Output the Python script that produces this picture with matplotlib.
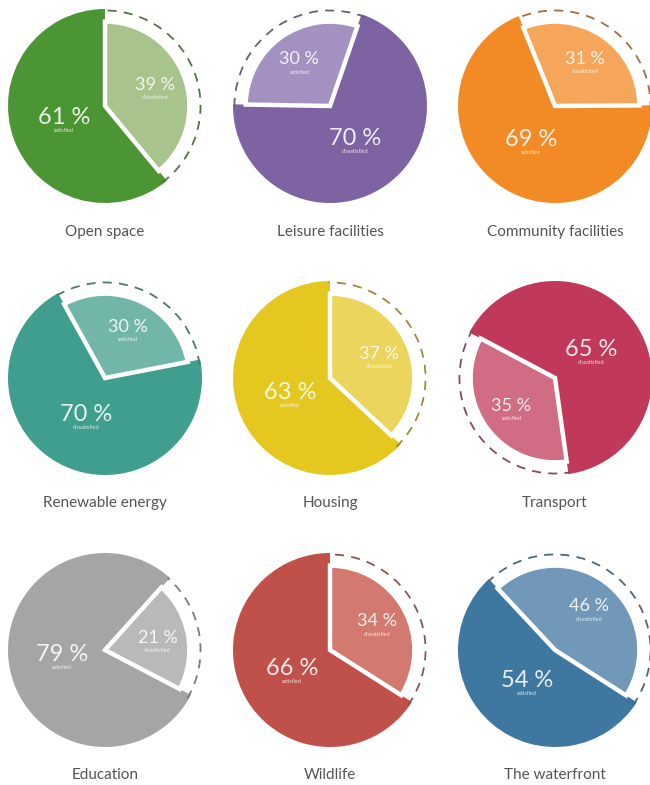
import math
import matplotlib
matplotlib.use("Agg")
import matplotlib.pyplot as plt
from matplotlib.patches import Wedge, Arc
import matplotlib.colors as mcolors

# Donnees
categories = ["Open space", "Leisure facilities", "Community facilities",
              "Renewable energy", "Housing", "Transport",
              "Education", "Wildlife", "The waterfront"]
big_values = [61, 70, 69, 70, 63, 65, 79, 66, 54]
small_values = [39, 30, 31, 30, 37, 35, 21, 34, 46]
big_labels = ["satisfied", "dissatisfied", "satisfied",
              "dissatisfied", "satisfied", "dissatisfied",
              "satisfied", "satisfied", "satisfied"]
small_labels = ["dissatisfied", "satisfied", "dissatisfied",
                "satisfied", "dissatisfied", "satisfied",
                "dissatisfied", "dissatisfied", "dissatisfied"]

# Style
big_colors = ["#4b9535", "#7e63a2", "#f28b26", "#3f9e8e", "#e4c820",
              "#c0385a", "#a5a5a5", "#c0514a", "#3e77a0"]
small_colors = ["#a8c38c", "#a591c1", "#f5a65a", "#72b6aa", "#ebd55c",
                "#d06c84", "#b9b9b9", "#d27a70", "#7198b9"]
small_start = [90, 179, 112, 119, 90, 278, 48, 90, 133]

W, H = 650, 785
centres_x = [105, 330, 555]
centres_y = [H - 106, H - 378, H - 650]
label_y = [H - 232, H - 503, H - 775]
R = 97

fig = plt.figure(figsize=(6.5, 7.85), dpi=100)
ax = fig.add_axes([0, 0, 1, 1])
ax.set_xlim(0, W)
ax.set_ylim(0, H)
ax.set_aspect("equal")
ax.axis("off")

police = ["Lato", "DejaVu Sans"]

for i in range(9):
    cx = centres_x[i % 3]
    cy = centres_y[i // 3]
    t2 = small_start[i]
    t1 = t2 - small_values[i] * 3.6

    # grande part
    ax.add_patch(Wedge((cx, cy), R, t2, t1 + 360,
                       facecolor=big_colors[i], edgecolor="none"))
    # petite part, reduite
    ax.add_patch(Wedge((cx, cy), R * 0.87, t1, t2,
                       facecolor=small_colors[i], edgecolor="white",
                       linewidth=3.2, joinstyle="miter"))
    # arc pointille
    rgb = mcolors.to_rgb(big_colors[i])
    dash_col = tuple(0.45 * c + 0.55 * 0.35 for c in rgb)
    ax.add_patch(Arc((cx, cy), 2 * R * 0.985, 2 * R * 0.985,
                     theta1=t1 - 3, theta2=t2 + 1,
                     color=dash_col, linewidth=1.3,
                     linestyle=(0, (5, 4))))

    # textes
    mid_big = (t2 + t1 + 360) / 2
    mid_small = (t1 + t2) / 2
    for mid, rr, val, lab in [(mid_big, 0.45, big_values[i], big_labels[i]),
                              (mid_small, 0.55, small_values[i], small_labels[i])]:
        tx = cx + rr * R * math.cos(math.radians(mid))
        ty = cy + rr * R * math.sin(math.radians(mid))
        fs = 17 if rr < 0.5 else 13
        ax.text(tx, ty + 3, str(val) + " %", color="white",
                fontsize=fs, family=police, fontweight="normal",
                ha="center", va="center", alpha=0.88)
        ax.text(tx, ty - 10, lab, color="white", fontsize=4,
                family=police, ha="center", va="center", alpha=0.8)

    ax.text(cx, label_y[i // 3], categories[i], color="#555555",
            fontsize=11, family=police, ha="center", va="center")

fig.savefig("out.png", dpi=100, facecolor="white")
